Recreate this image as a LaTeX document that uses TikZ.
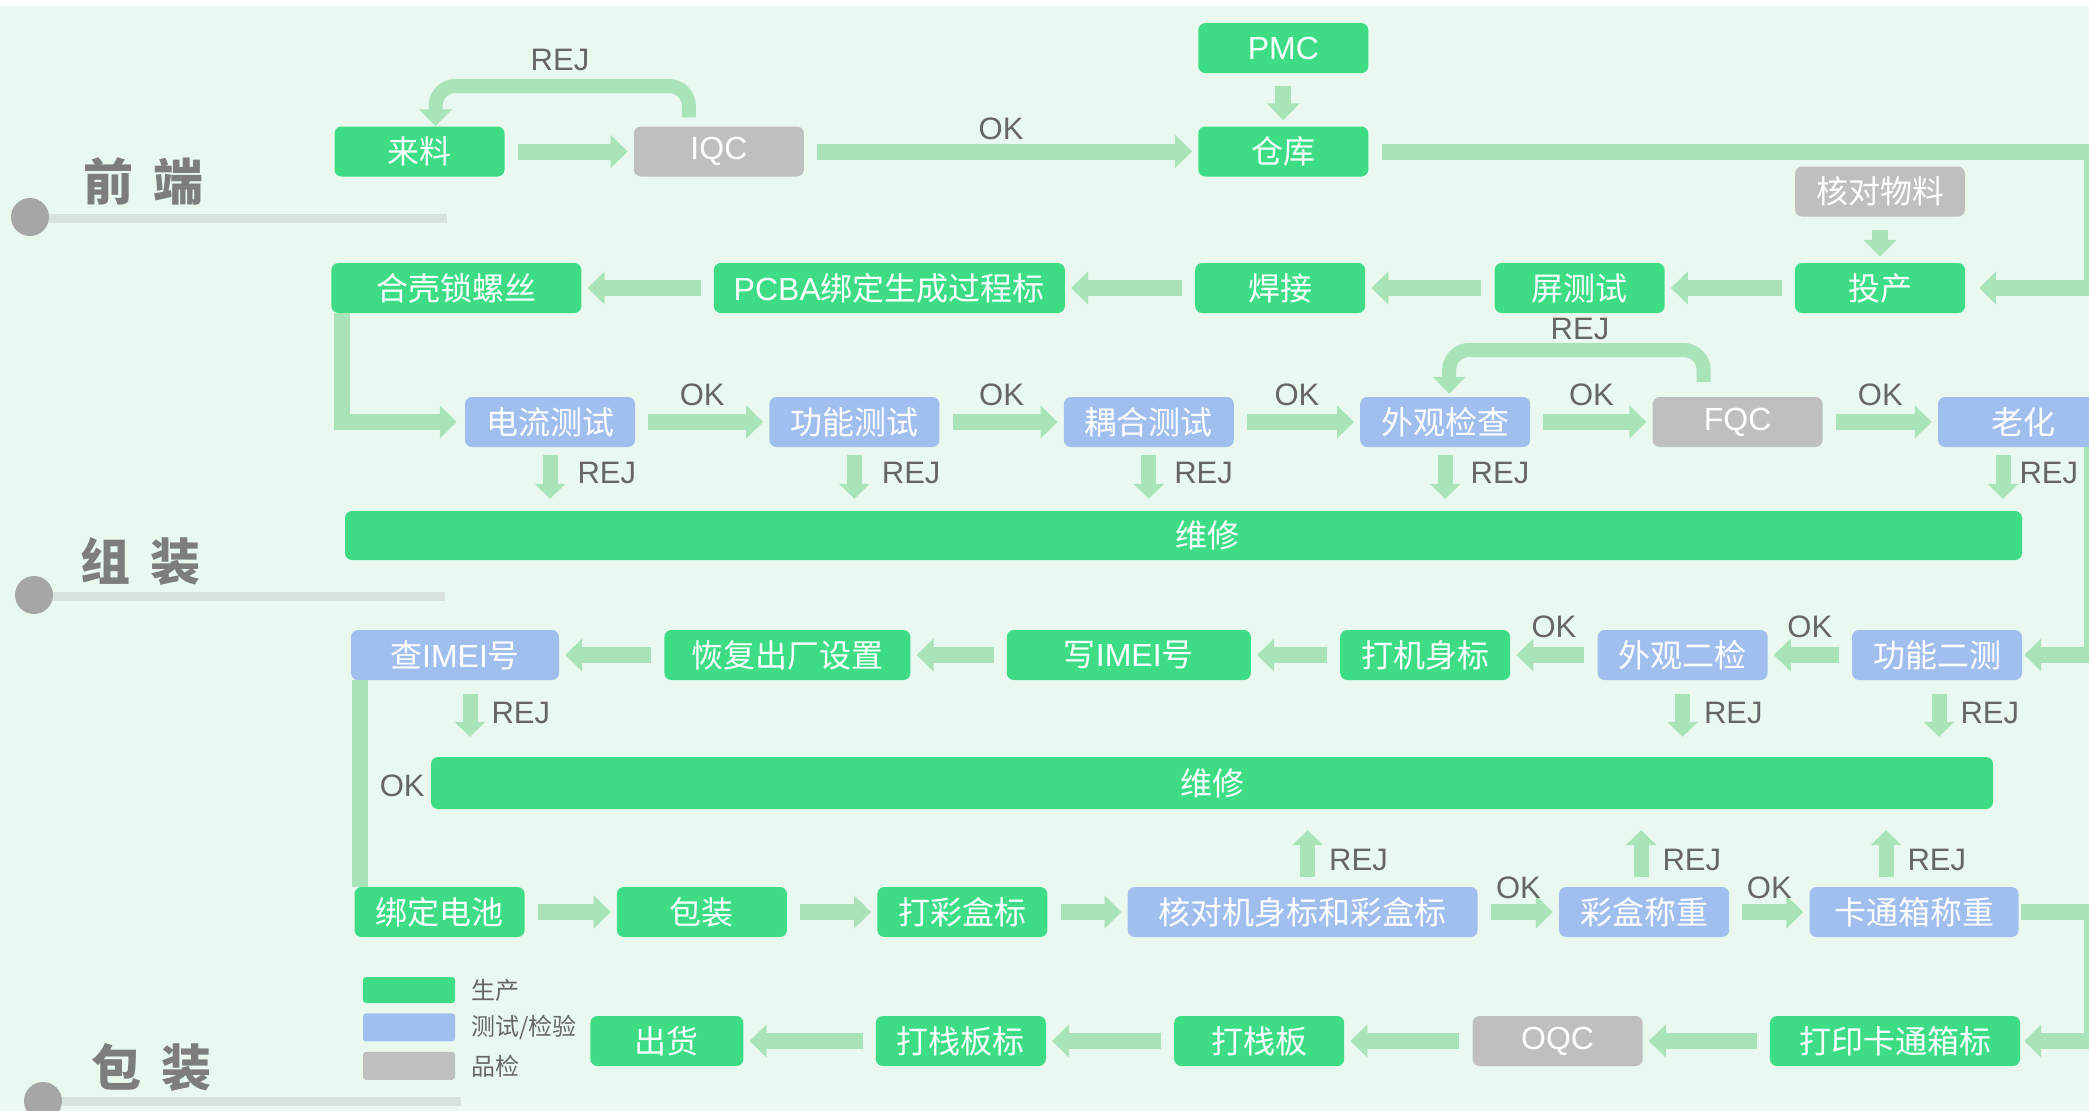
\documentclass[tikz,border=0pt]{standalone}
\usepackage{fontspec}
\setmainfont{Noto Sans CJK SC}
\newfontfamily\arial{Liberation Sans}
\usepackage{tikz}
\usetikzlibrary{arrows.meta,positioning}
\definecolor{bgc}{RGB}{234,249,240}
\definecolor{prodc}{RGB}{62,221,133}
\definecolor{testc}{RGB}{160,191,239}
\definecolor{qcc}{RGB}{191,191,191}
\definecolor{flowc}{RGB}{168,228,183}
\definecolor{labc}{RGB}{102,102,102}
\definecolor{secc}{RGB}{125,125,125}
\definecolor{dotc}{RGB}{166,166,166}
\definecolor{linec}{RGB}{216,226,220}
\newcommand{\eng}[1]{{\arial #1}}
\newcommand{\boxfont}{\fontsize{32pt}{36pt}\selectfont}
\newcommand{\labfont}{\arial\fontsize{31pt}{35pt}\selectfont}
\newcommand{\secfont}{\bfseries\fontsize{50pt}{56pt}\selectfont}
\newcommand{\legfont}{\fontsize{24pt}{28pt}\selectfont}

\begin{document}
\begin{tikzpicture}[x=1pt,y=-1pt,
  box/.style={rounded corners=7pt,minimum width=170pt,minimum height=50pt,inner sep=0pt,text=white,font=\boxfont},
  prod/.style={box,fill=prodc},
  test/.style={box,fill=testc},
  qc/.style={box,fill=qcc},
  flow/.style={draw=flowc,line width=16pt,-{Triangle[width=32pt,length=17pt]},shorten <=13pt,shorten >=6pt},
  rej/.style={draw=flowc,line width=15pt,-{Triangle[width=30pt,length=15pt]}},
  lab/.style={text=labc,font=\labfont,inner sep=0pt},
  sec/.style={text=secc,font=\secfont,inner sep=0pt},
  leg/.style={text=labc,font=\legfont,inner sep=0pt}]
  \useasboundingbox (0,0) rectangle (2089,1111);
  \fill[bgc] (0,6) rectangle (2089,1111);
  \coordinate (edge) at (2092,0);
  \coordinate (ltop1) at (560,86);
  \coordinate (ltop2) at (1580,350);

  \draw[linec,line width=9pt] (49,218) -- (447,218);
  \fill[dotc] (30,217) circle (19pt);
  \node[sec] (qianduan) at (143,182) {前\hspace{20pt}端};
  \draw[linec,line width=9pt] (52,596) -- (445,596);
  \fill[dotc] (34,595) circle (19pt);
  \node[sec] (zuzhuang) at (140,562) {组\hspace{20pt}装};
  \draw[linec,line width=9pt] (62,1101) -- (461,1101);
  \fill[dotc] (43,1101) circle (19pt);
  \node[sec] (baozhuangsec) at (151,1068) {包\hspace{20pt}装};

  \node[prod] (laoliao) at (419.5,151.5) {来料};
  \node[qc, right=129pt of laoliao] (iqc) {\eng{IQC}};
  \node[prod, right=394pt of iqc] (cangku) {仓库};
  \node[prod, above=53pt of cangku] (pmc) {\eng{PMC}};

  \node[prod] (touchan) at (1880,288) {投产};
  \node[qc, above=46pt of touchan] (hedui) {核对物料};
  \node[prod, left=130pt of touchan] (pingce) {屏测试};
  \node[prod, left=129pt of pingce] (hanjie) {焊接};
  \node[prod, left=130pt of hanjie, minimum width=351pt] (pcba) {\eng{PCBA}绑定生成过程标};
  \node[prod, left=132pt of pcba, minimum width=250pt] (heke) {合壳锁螺丝};

  \node[test] (dianliu) at (550,422) {电流测试};
  \node[test, right=134pt of dianliu] (gongneng) {功能测试};
  \node[test, right=124pt of gongneng] (ouhe) {耦合测试};
  \node[test, right=126pt of ouhe] (waiguan) {外观检查};
  \node[qc, right=122pt of waiguan] (fqc) {\eng{FQC}};
  \node[test, right=115pt of fqc] (laohua) {老化};
  \node[prod, minimum width=1677pt, minimum height=49pt] (weixiu1) at (1183.5,535.5) {\hspace*{48pt}维修};

  \node[test] (gn2) at (1937,655) {功能二测};
  \node[test, left=84pt of gn2] (wg2) {外观二检};
  \node[prod, left=87pt of wg2] (djsb) {打机身标};
  \node[prod, left=89pt of djsb, minimum width=244pt] (ximei) {写\eng{IMEI}号};
  \node[prod, left=96pt of ximei, minimum width=246pt] (huifu) {恢复出厂设置};
  \node[test, left=105pt of huifu, minimum width=208pt] (chaimei) {查\eng{IMEI}号};
  \node[prod, minimum width=1562pt, minimum height=52pt] (weixiu2) at (1212,783) {维修};

  \node[prod] (bangding) at (439.5,912) {绑定电池};
  \node[prod, right=92pt of bangding] (baozhuang) {包装};
  \node[prod, right=90pt of baozhuang] (caihebiao) {打彩盒标};
  \node[test, right=80pt of caihebiao, minimum width=350pt] (hedui2) {核对机身标和彩盒标};
  \node[test, right=81pt of hedui2] (caihe) {彩盒称重};
  \node[test, right=80pt of caihe, minimum width=209pt] (kaxiang) {卡通箱称重};

  \node[prod, minimum width=250pt] (dayin) at (1895,1041) {打印卡通箱标};
  \node[qc, left=127pt of dayin] (oqc) {\eng{OQC}};
  \node[prod, left=128pt of oqc] (zhanban) {打栈板};
  \node[prod, left=128pt of zhanban] (zbbiao) {打栈板标};
  \node[prod, left=132pt of zbbiao, minimum width=153pt] (chuhuo) {出货};

  \node[fill=prodc, rounded corners=3pt, minimum width=92pt, minimum height=26pt] (lgp) at (409,990) {};
  \node[fill=testc, rounded corners=3pt, minimum width=92pt, minimum height=28pt, below=10pt of lgp] (lgt) {};
  \node[fill=qcc, rounded corners=3pt, minimum width=92pt, minimum height=28pt, below=10pt of lgt] (lgq) {};
  \node[leg, right=16pt of lgp] (lg1) {生产};
  \node[leg, right=16pt of lgt] (lg2) {测试/检验};
  \node[leg, right=16pt of lgq] (lg3) {品检};

  \draw[flow] (laoliao) -- (iqc);
  \draw[flow] (iqc) -- node[lab, yshift=23pt] (ok0) {OK} (cangku);
  \draw[flow] (pmc) -- (cangku);
  \draw[flow, rounded corners=20pt, line width=14pt, shorten <=9pt, shorten >=0pt] ([xshift=-30pt]iqc.north) |- (ltop1) node[lab, above=8pt] (rej0) {REJ} -| ([xshift=16pt]laoliao.north);
  \draw[flow, shorten >=14pt] (cangku.east) -- (cangku.east -| edge) |- (touchan.east);
  \draw[flow] (hedui) -- (touchan);
  \draw[flow] (touchan) -- (pingce);
  \draw[flow] (pingce) -- (hanjie);
  \draw[flow] (hanjie) -- (pcba);
  \draw[flow] (pcba) -- (heke);

  \draw[flow, shorten <=0pt, shorten >=8pt] ([xshift=11pt]heke.south west) |- (dianliu.west);
  \draw[flow] (dianliu) -- node[lab, yshift=27pt] (ok1) {OK} (gongneng);
  \draw[flow] (gongneng) -- node[lab, yshift=27pt] (ok2) {OK} (ouhe);
  \draw[flow] (ouhe) -- node[lab, yshift=27pt] (ok3) {OK} (waiguan);
  \draw[flow] (waiguan) -- node[lab, yshift=27pt] (ok4) {OK} (fqc);
  \draw[flow] (fqc) -- node[lab, yshift=27pt] (ok5) {OK} (laohua);
  \draw[flow, rounded corners=20pt, line width=14pt, shorten <=15pt, shorten >=3pt] ([xshift=-34pt]fqc.north) |- (ltop2) node[lab, above=3pt] (rej5) {REJ} -| ([xshift=4pt]waiguan.north);
  \draw[flow, shorten <=0pt, shorten >=2pt] (laohua.south -| edge) |- (gn2.east);
  \draw[rej, shorten <=8pt, shorten >=12pt] (dianliu.south) -- (dianliu.south |- weixiu1.north) node[lab, pos=.4, right=20pt] (rej1) {REJ};
  \draw[rej, shorten <=8pt, shorten >=12pt] (gongneng.south) -- (gongneng.south |- weixiu1.north) node[lab, pos=.4, right=20pt] (rej2) {REJ};
  \draw[rej, shorten <=8pt, shorten >=12pt] (ouhe.south) -- (ouhe.south |- weixiu1.north) node[lab, pos=.4, right=18pt] (rej3) {REJ};
  \draw[rej, shorten <=8pt, shorten >=12pt] (waiguan.south) -- (waiguan.south |- weixiu1.north) node[lab, pos=.4, right=18pt] (rej4) {REJ};
  \draw[rej, shorten <=8pt, shorten >=12pt] ([xshift=-20pt]laohua.south) -- ([xshift=-20pt]laohua.south |- weixiu1.north) node[lab, pos=.4, right=9pt] (rej6) {REJ};

  \draw[flow] (gn2) -- node[lab, yshift=28pt] (ok6) {OK} (wg2);
  \draw[flow] (wg2) -- node[lab, yshift=28pt] (ok7) {OK} (djsb);
  \draw[flow] (djsb) -- (ximei);
  \draw[flow] (ximei) -- (huifu);
  \draw[flow] (huifu) -- (chaimei);
  \draw[rej, shorten <=14pt, shorten >=20pt] ([xshift=15pt]chaimei.south) -- ([xshift=15pt]chaimei.south |- weixiu2.north) node[lab, pos=.43, right=14pt] (rej7) {REJ};
  \draw[rej, shorten <=14pt, shorten >=20pt] (wg2.south) -- (wg2.south |- weixiu2.north) node[lab, pos=.43, right=14pt] (rej8) {REJ};
  \draw[rej, shorten <=14pt, shorten >=20pt] ([xshift=2pt]gn2.south) -- ([xshift=2pt]gn2.south |- weixiu2.north) node[lab, pos=.43, right=14pt] (rej9) {REJ};
  \draw[draw=flowc, line width=16pt] ([xshift=9pt]chaimei.south west) -- ([xshift=9pt]chaimei.south west |- bangding.north) node[lab, pos=.51, right=12pt] (ok10) {OK};

  \draw[flow] (bangding) -- (baozhuang);
  \draw[flow] (baozhuang) -- (caihebiao);
  \draw[flow] (caihebiao) -- (hedui2);
  \draw[flow] (hedui2) -- node[lab, yshift=24pt] (ok8) {OK} (caihe);
  \draw[flow] (caihe) -- node[lab, yshift=24pt] (ok9) {OK} (kaxiang);
  \draw[rej, shorten <=10pt, shorten >=21pt] ([xshift=5pt]hedui2.north) -- ([xshift=5pt]hedui2.north |- weixiu2.south) node[lab, pos=.34, right=14pt] (rej10) {REJ};
  \draw[rej, shorten <=10pt, shorten >=21pt] ([xshift=-3pt]caihe.north) -- ([xshift=-3pt]caihe.north |- weixiu2.south) node[lab, pos=.34, right=14pt] (rej11) {REJ};
  \draw[rej, shorten <=10pt, shorten >=21pt] ([xshift=-28pt]kaxiang.north) -- ([xshift=-28pt]kaxiang.north |- weixiu2.south) node[lab, pos=.34, right=14pt] (rej12) {REJ};
  \draw[flow, shorten <=2pt, shorten >=4pt] (kaxiang.east) -- (kaxiang.east -| edge) |- (dayin.east);

  \draw[flow] (dayin) -- (oqc);
  \draw[flow] (oqc) -- (zhanban);
  \draw[flow] (zhanban) -- (zbbiao);
  \draw[flow] (zbbiao) -- (chuhuo);
\end{tikzpicture}
\end{document}
